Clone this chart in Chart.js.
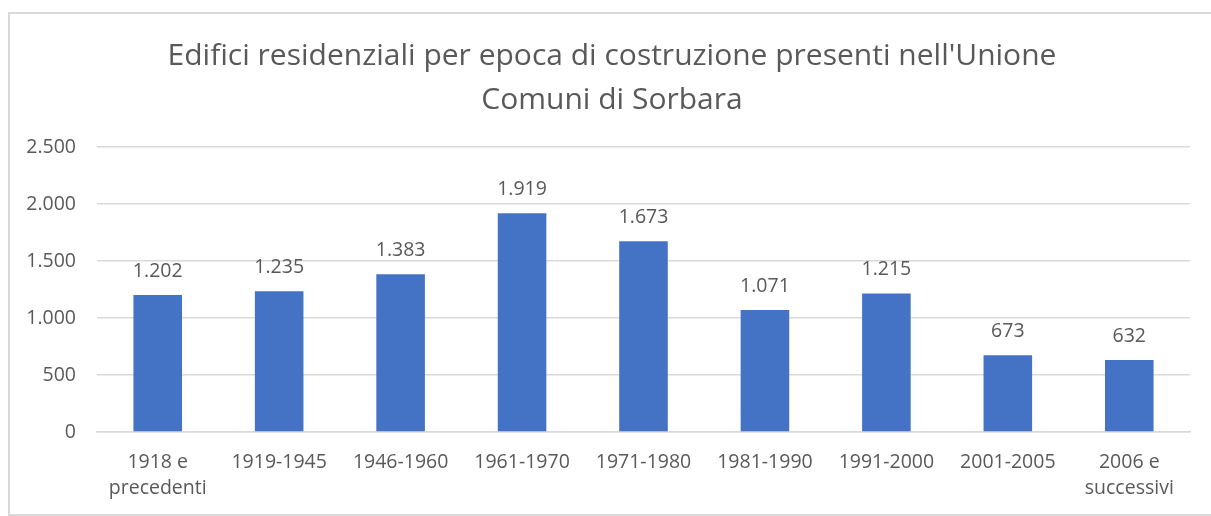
<!DOCTYPE html>
<html>
<head>
<meta charset="utf-8">
<script src="https://cdn.jsdelivr.net/npm/chart.js@4/dist/chart.umd.min.js"></script>
<style>
  html, body { margin: 0; padding: 0; background: #fff; }
  #wrap { position: relative; width: 1211px; height: 516px; }
  #frame {
    position: absolute; left: 8px; top: 12px; width: 1220px; height: 504px;
    border: 2px solid #d9d9d9; box-sizing: border-box; pointer-events: none;
  }
  canvas { position: absolute; left: 0; top: 0; }
</style>
</head>
<body>
<div id="wrap">
  <canvas id="chart" width="1211" height="516"></canvas>
  <div id="frame"></div>
</div>
<script>
// data
const periods = [
  ['1918 e', 'precedenti'], '1919-1945', '1946-1960', '1961-1970', '1971-1980',
  '1981-1990', '1991-2000', '2001-2005', ['2006 e', 'successivi']
];
const buildings = [1202, 1235, 1383, 1919, 1673, 1071, 1215, 673, 632];
const yTicks = [0, 500, 1000, 1500, 2000, 2500];

const TEXT = '#595959';
const GRID = '#d9d9d9';
const BAR = '#4472c4';
const FONT = '"Open Sans", sans-serif';

// Italian thousands separator: 1202 -> 1.202
const fmt = v => String(v).replace(/\B(?=(\d{3})+(?!\d))/g, '.');

const valueLabels = {
  id: 'valueLabels',
  afterDatasetsDraw(chart) {
    const ctx = chart.ctx;
    const meta = chart.getDatasetMeta(0);
    ctx.save();
    ctx.font = '19.5px ' + FONT;
    ctx.fillStyle = TEXT;
    ctx.textAlign = 'center';
    ctx.textBaseline = 'alphabetic';
    meta.data.forEach((bar, i) => {
      ctx.fillText(fmt(buildings[i]), bar.x, bar.y - 18);
    });
    ctx.restore();
  }
};

new Chart(document.getElementById('chart'), {
  type: 'bar',
  data: {
    labels: periods,
    datasets: [{
      data: buildings,
      backgroundColor: BAR,
      borderWidth: 0,
      barPercentage: 0.4,
      categoryPercentage: 1,
    }]
  },
  plugins: [valueLabels],
  options: {
    responsive: false,
    animation: false,
    layout: { padding: { left: 13, right: 0, top: 0, bottom: 0 } },
    plugins: {
      legend: { display: false },
      tooltip: { enabled: false },
      title: {
        display: true,
        text: ["Edifici residenziali per epoca di costruzione presenti nell'Unione", 'Comuni di Sorbara'],
        color: TEXT,
        font: { family: FONT, size: 30, weight: 'normal', lineHeight: 1.45 },
        padding: { top: 35, bottom: 25 },
      },
    },
    scales: {
      x: {
        afterFit: s => { s.height = 84; },
        grid: { display: false, drawTicks: false },
        border: { display: true, color: GRID, width: 1.5 },
        ticks: {
          color: TEXT,
          font: { family: FONT, size: 19.5, lineHeight: 1.35 },
          padding: 17,
          maxRotation: 0,
          autoSkip: false,
        },
      },
      y: {
        min: 0,
        max: 2500,
        afterFit: s => { s.width = 84; },
        afterBuildTicks: s => { s.ticks = yTicks.map(v => ({ value: v })); },
        grid: { color: GRID, lineWidth: 1.5, drawTicks: false },
        border: { display: false },
        ticks: {
          color: TEXT,
          font: { family: FONT, size: 19.5 },
          padding: 21,
          callback: v => fmt(v),
        },
      },
      // empty right-hand spacer so the plot ends where the reference's does
      yRight: {
        position: 'right',
        min: 0,
        max: 2500,
        afterFit: s => { s.width = 21; },
        grid: { display: false, drawTicks: false },
        border: { display: false },
        ticks: { display: false },
      },
    },
  },
});
</script>
</body>
</html>
